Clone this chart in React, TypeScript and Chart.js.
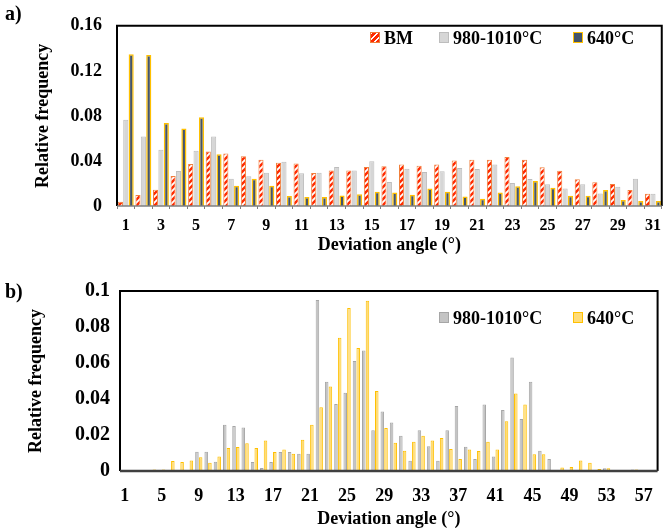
import React, { useEffect, useRef } from "react";
import { Chart, registerables } from "chart.js";

Chart.register(...registerables);

// ---------- Data: panel a ----------
const topCategories = Array.from({ length: 31 }, (_, i) => String(i + 1));
const bmValues = [0.0038, 0.0097, 0.0144, 0.0267, 0.0372, 0.0484, 0.0466, 0.0442, 0.041, 0.0384, 0.0378, 0.0293, 0.0316, 0.0316, 0.0346, 0.0352, 0.0369, 0.0358, 0.0369, 0.0404, 0.041, 0.041, 0.0434, 0.041, 0.0343, 0.0314, 0.0237, 0.0211, 0.0196, 0.0141, 0.0108];
const hiTempTopValues = [0.0765, 0.0618, 0.05, 0.031, 0.049, 0.0618, 0.0243, 0.0264, 0.0296, 0.0393, 0.029, 0.0296, 0.0346, 0.0316, 0.0398, 0.0214, 0.0331, 0.0302, 0.0308, 0.0337, 0.0328, 0.0369, 0.0205, 0.024, 0.0193, 0.0155, 0.0193, 0.0111, 0.017, 0.0243, 0.0108];
const lowTempTopValues = [0.1348, 0.134, 0.0736, 0.0689, 0.0789, 0.046, 0.0179, 0.0243, 0.0179, 0.0088, 0.0079, 0.0079, 0.0094, 0.0105, 0.0126, 0.012, 0.0099, 0.0155, 0.0126, 0.0085, 0.0064, 0.012, 0.0176, 0.0223, 0.0161, 0.0091, 0.0091, 0.0141, 0.0053, 0.0044, 0.0044];
const topYTicks = [0, 0.04, 0.08, 0.12, 0.16];

// ---------- Data: panel b ----------
const bottomCategories = Array.from({ length: 58 }, (_, i) => String(i + 1));
const hiTempBottomValues = [0.0005, 0.0005, 0.0005, 0.0005, 0.0005, 0.0005, 0.0005, 0.0005, 0.0107, 0.0107, 0.0052, 0.0257, 0.025, 0.0241, 0.005, 0.0017, 0.005, 0.0106, 0.0106, 0.0096, 0.0096, 0.095, 0.0496, 0.0372, 0.0435, 0.0611, 0.067, 0.0226, 0.0331, 0.027, 0.0196, 0.0057, 0.0226, 0.0137, 0.0057, 0.0226, 0.0361, 0.0135, 0.0067, 0.037, 0.008, 0.0339, 0.0631, 0.0289, 0.0496, 0.0113, 0.0067, 0.0005, 0.0005, 0.0005, 0.0005, 0.0005, 0.0015, 0.0005, 0.0005, 0.0008, 0.0005, 0.0005];
const lowTempBottomValues = [0, 0, 0.0006, 0.0008, 0.0008, 0.0056, 0.005, 0.0059, 0.0076, 0.0046, 0.008, 0.0128, 0.0133, 0.0154, 0.0128, 0.017, 0.0106, 0.0119, 0.0096, 0.0174, 0.0257, 0.0354, 0.0469, 0.074, 0.0906, 0.0683, 0.0946, 0.0444, 0.0239, 0.0157, 0.0113, 0.0163, 0.0196, 0.017, 0.0183, 0.0122, 0.0067, 0.0119, 0.0111, 0.0163, 0.0119, 0.0276, 0.0431, 0.0369, 0.0093, 0.0093, 0.0006, 0.0019, 0.0022, 0.0059, 0.0046, 0.0011, 0.0015, 0, 0, 0.0008, 0.0006, 0.0006];
const bottomYTicks = [0, 0.02, 0.04, 0.06, 0.08, 0.1];

const seriesNames = ["BM", "980-1010°C", "640°C"];

const SERIF = "'Liberation Serif', 'Times New Roman', serif";

function makeStripePattern(): CanvasPattern | string {
  const c = document.createElement("canvas");
  c.width = 6;
  c.height = 6;
  const g = c.getContext("2d");
  if (!g) return "#ff3300";
  g.fillStyle = "#ffffff";
  g.fillRect(0, 0, 6, 6);
  g.strokeStyle = "#ff2a00";
  g.lineWidth = 2.4;
  g.beginPath();
  g.moveTo(0, 6);
  g.lineTo(6, 0);
  g.moveTo(-3, 3);
  g.lineTo(3, -3);
  g.moveTo(3, 9);
  g.lineTo(9, 3);
  g.stroke();
  return g.createPattern(c, "repeat") || "#ff3300";
}

function framePlugin(baseColor: string, baseWidth: number) {
  return {
    id: "frame",
    afterDatasetsDraw(chart: any) {
      const { ctx, chartArea: a } = chart;
      ctx.save();
      ctx.strokeStyle = "#000";
      ctx.lineWidth = 2;
      ctx.beginPath();
      ctx.moveTo(a.left, a.bottom);
      ctx.lineTo(a.left, a.top);
      ctx.lineTo(a.right, a.top);
      ctx.lineTo(a.right, a.bottom);
      ctx.stroke();
      ctx.strokeStyle = baseColor;
      ctx.lineWidth = baseWidth;
      ctx.beginPath();
      ctx.moveTo(a.left, a.bottom);
      ctx.lineTo(a.right, a.bottom);
      ctx.stroke();
      ctx.restore();
    },
  };
}

function TopChart() {
  const ref = useRef<HTMLCanvasElement>(null);
  useEffect(() => {
    if (!ref.current) return;
    const stripe = makeStripePattern();
    const chart = new Chart(ref.current, {
      type: "bar",
      data: {
        labels: topCategories,
        datasets: [
          { label: seriesNames[0], data: bmValues, backgroundColor: stripe as any, borderColor: "#f0803c", borderWidth: 1 },
          { label: seriesNames[1], data: hiTempTopValues, backgroundColor: "#d6d6d6", borderColor: "#bdbdbd", borderWidth: 1 },
          { label: seriesNames[2], data: lowTempTopValues, backgroundColor: "#44546a", borderColor: "#ffc000", borderWidth: 1.5 },
        ],
      },
      options: {
        responsive: false,
        animation: false,
        categoryPercentage: 0.92,
        barPercentage: 0.95,
        layout: { autoPadding: false, padding: { left: 0, right: 2, top: 24, bottom: 0 } } as any,
        plugins: { legend: { display: false }, tooltip: { enabled: false } },
        scales: {
          x: {
            afterFit: (s: any) => { s.height = 51; },
            grid: { drawOnChartArea: false, drawTicks: true, tickLength: 3, color: "#7f7f7f" },
            border: { display: false },
            ticks: {
              autoSkip: false,
              maxRotation: 0,
              padding: 7,
              color: "#000",
              font: { family: SERIF, size: 16, weight: "bold" },
              callback: (_v: any, i: number) => (i % 2 === 0 ? topCategories[i] : ""),
            },
            title: {
              display: true,
              text: "Deviation angle (°)",
              color: "#000",
              font: { family: SERIF, size: 18, weight: "bold" },
              padding: { top: 0, bottom: 1 },
            },
          },
          y: {
            min: 0,
            max: 0.16,
            afterFit: (s: any) => { s.width = 117; },
            afterBuildTicks: (s: any) => { s.ticks = topYTicks.map((v) => ({ value: v })); },
            grid: { display: false, drawTicks: false },
            border: { display: false },
            ticks: {
              padding: 15,
              color: "#000",
              font: { family: SERIF, size: 18, weight: "bold" },
              callback: (v: any) => (Number(v) === 0 ? "0" : Number(v).toFixed(2)),
            },
            title: {
              display: true,
              text: "Relative frequency",
              color: "#000",
              font: { family: SERIF, size: 18, weight: "bold" },
              padding: { top: 33, bottom: 0 },
            },
          },
        },
      },
      plugins: [framePlugin("#7f7f7f", 1.5)],
    } as any);
    return () => chart.destroy();
  }, []);
  return <canvas ref={ref} width={668} height={257} style={{ position: "absolute", left: 0, top: 0, display: "block" }} />;
}

function BottomChart() {
  const ref = useRef<HTMLCanvasElement>(null);
  useEffect(() => {
    if (!ref.current) return;
    const chart = new Chart(ref.current, {
      type: "bar",
      data: {
        labels: bottomCategories,
        datasets: [
          { label: seriesNames[1], data: hiTempBottomValues, backgroundColor: "#c4c4c4", borderColor: "#a6a6a6", borderWidth: 1 },
          { label: seriesNames[2], data: lowTempBottomValues, backgroundColor: "#ffdc78", borderColor: "#ffc000", borderWidth: 1 },
        ],
      },
      options: {
        responsive: false,
        animation: false,
        categoryPercentage: 0.8,
        barPercentage: 0.95,
        layout: { autoPadding: false, padding: { left: 0, right: 5, top: 37, bottom: 0 } } as any,
        plugins: { legend: { display: false }, tooltip: { enabled: false } },
        scales: {
          x: {
            afterFit: (s: any) => { s.height = 59; },
            grid: { display: false, drawTicks: false },
            border: { display: false },
            ticks: {
              autoSkip: false,
              maxRotation: 0,
              padding: 15,
              color: "#000",
              font: { family: SERIF, size: 18, weight: "bold" },
              callback: (_v: any, i: number) => (i % 4 === 0 ? bottomCategories[i] : ""),
            },
            title: {
              display: true,
              text: "Deviation angle (°)",
              color: "#000",
              font: { family: SERIF, size: 18, weight: "bold" },
              padding: { top: 0, bottom: 0 },
            },
          },
          y: {
            min: 0,
            max: 0.1,
            afterFit: (s: any) => { s.width = 120; },
            afterBuildTicks: (s: any) => { s.ticks = bottomYTicks.map((v) => ({ value: v })); },
            grid: { display: false, drawTicks: false },
            border: { display: false },
            ticks: {
              padding: 10,
              color: "#000",
              font: { family: SERIF, size: 20, weight: "bold" },
              callback: (v: any) => {
                const n = Number(v);
                if (n === 0) return "0";
                if (Math.abs(n - 0.1) < 1e-9) return "0.1";
                return n.toFixed(2);
              },
            },
            title: {
              display: true,
              text: "Relative frequency",
              color: "#000",
              font: { family: SERIF, size: 18, weight: "bold" },
              padding: { top: 26, bottom: 0 },
            },
          },
        },
      },
      plugins: [framePlugin("#404040", 2.5)],
    } as any);
    return () => chart.destroy();
  }, []);
  return <canvas ref={ref} width={668} height={276} style={{ position: "absolute", left: 0, top: 254, display: "block" }} />;
}

const labelStyle: React.CSSProperties = {
  position: "absolute",
  fontFamily: SERIF,
  fontWeight: "bold",
  fontSize: 18,
  lineHeight: "18px",
  color: "#000",
  whiteSpace: "nowrap",
};

function Swatch({ left, top, style }: { left: number; top: number; style: React.CSSProperties }) {
  return <div style={{ position: "absolute", left, top, width: 10, height: 11, boxSizing: "border-box", ...style }} />;
}

export default function App() {
  const stripeCss: React.CSSProperties = {
    background: "repeating-linear-gradient(-45deg, #ff2a00 0px, #ff2a00 2.4px, #ffffff 2.4px, #ffffff 4.2px)",
    border: "1px solid #f0803c",
  };
  return (
    <div style={{ position: "absolute", left: 0, top: 0, width: 668, height: 528, overflow: "hidden", background: "#fff" }}>
      <TopChart />
      <BottomChart />
      <div style={{ ...labelStyle, left: 5, top: 3, fontSize: 20, lineHeight: "20px" }}>a)</div>
      <div style={{ ...labelStyle, left: 5, top: 281, fontSize: 20, lineHeight: "20px" }}>b)</div>

      {/* legend a */}
      <Swatch left={370} top={32} style={stripeCss} />
      <div style={{ ...labelStyle, left: 384, top: 29 }}>{seriesNames[0]}</div>
      <Swatch left={439} top={32} style={{ background: "#d6d6d6", border: "1px solid #bdbdbd" }} />
      <div style={{ ...labelStyle, left: 453, top: 29 }}>{seriesNames[1]}</div>
      <Swatch left={573} top={32} style={{ background: "#44546a", border: "1.5px solid #ffc000" }} />
      <div style={{ ...labelStyle, left: 587, top: 29 }}>{seriesNames[2]}</div>

      {/* legend b */}
      <Swatch left={439} top={312} style={{ background: "#c4c4c4", border: "1px solid #a6a6a6" }} />
      <div style={{ ...labelStyle, left: 453, top: 309 }}>{seriesNames[1]}</div>
      <Swatch left={573} top={312} style={{ background: "#ffdc78", border: "1px solid #ffc000" }} />
      <div style={{ ...labelStyle, left: 587, top: 309 }}>{seriesNames[2]}</div>
    </div>
  );
}
